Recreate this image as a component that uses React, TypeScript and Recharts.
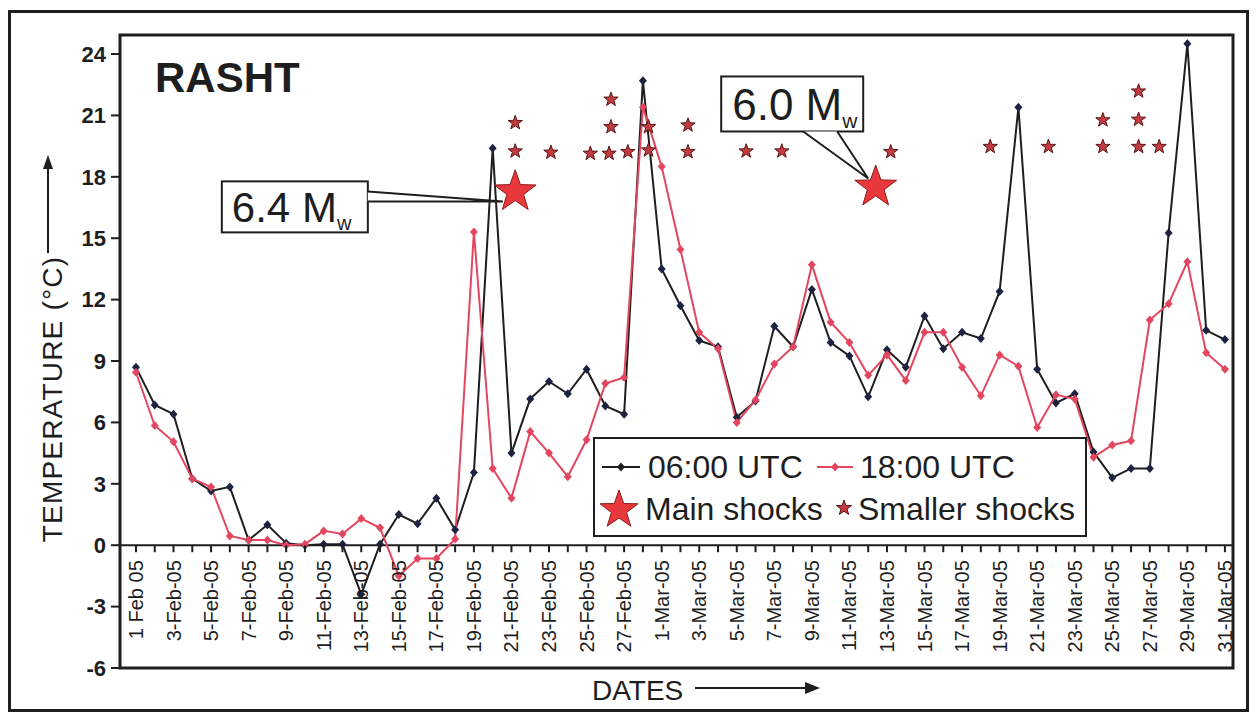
import { ComposedChart, Line, Scatter, XAxis, YAxis, ReferenceArea, ReferenceLine, ReferenceDot, Legend } from 'recharts'

const FONT = '"Liberation Sans", Arial, Helvetica, sans-serif'
const INK = '#1e1e1e'
const RED = '#e3475f'

// one label every second day, 1 Feb 2005 .. 31 Mar 2005
const dateLabels = [
  '1 Feb 05', '3-Feb-05', '5-Feb-05', '7-Feb-05', '9-Feb-05', '11-Feb-05', '13-Feb-05', '15-Feb-05',
  '17-Feb-05', '19-Feb-05', '21-Feb-05', '23-Feb-05', '25-Feb-05', '27-Feb-05', '1-Mar-05', '3-Mar-05',
  '5-Mar-05', '7-Mar-05', '9-Mar-05', '11-Mar-05', '13-Mar-05', '15-Mar-05', '17-Mar-05', '19-Mar-05',
  '21-Mar-05', '23-Mar-05', '25-Mar-05', '27-Mar-05', '29-Mar-05', '31-Mar-05',
]

// daily temperature (°C), index 0 = 1 Feb
const temp06 = [
  8.7, 6.85, 6.4, 3.25, 2.65, 2.85, 0.25, 1.0, 0.1, 0, 0.05, 0.05, -2.4, 0.05, 1.5, 1.05, 2.3, 0.75, 3.55, 19.4,
  4.5, 7.15, 8.0, 7.4, 8.6, 6.8, 6.4, 22.7,
  13.5, 11.7, 10.0, 9.7, 6.25, 7.05, 10.7, 9.7, 12.5, 9.9, 9.25, 7.25, 9.55, 8.7, 11.2, 9.6, 10.4, 10.1,
  12.4, 21.4, 8.6, 6.95, 7.4, 4.55, 3.3, 3.75, 3.75, 15.25, 24.5, 10.5, 10.05,
]
const temp18 = [
  8.45, 5.85, 5.05, 3.25, 2.85, 0.45, 0.25, 0.25, 0, 0.05, 0.7, 0.55, 1.3, 0.85, -1.5, -0.65, -0.65, 0.3, 15.3, 3.75,
  2.3, 5.55, 4.5, 3.35, 5.15, 7.9, 8.2, 21.4,
  18.5, 14.45, 10.4, 9.6, 6.0, 7.1, 8.85, 9.7, 13.7, 10.9, 9.9, 8.3, 9.3, 8.05, 10.4, 10.4, 8.7, 7.3,
  9.3, 8.75, 5.75, 7.35, 7.15, 4.3, 4.9, 5.1, 11.0, 11.8, 13.85, 9.4, 8.6,
]

// earthquakes: position in days from 1 Feb, plotted height in °C units
const mainShockDays = [20.2, 39.4]
const mainShockLevels = [17.27, 17.5]
const smallShockDays = [
  20.2, 20.2, 22.1, 24.2, 25.2, 25.3, 25.3, 26.2, 27.3, 27.3, 29.4, 29.4, 32.5, 34.4, 40.2,
  45.5, 48.6, 51.5, 51.5, 53.4, 53.4, 53.4, 54.5,
]
const smallShockLevels = [
  20.64, 19.25, 19.19, 19.14, 19.14, 20.44, 21.78, 19.22, 20.44, 19.3, 20.52, 19.22, 19.25, 19.25, 19.22,
  19.47, 19.47, 19.47, 20.77, 19.47, 20.8, 22.18, 19.47,
]

const yTicks = [-6, -3, 0, 3, 6, 9, 12, 15, 18, 21, 24]

const Y_MIN = -6
const Y_MAX = 24.93
const X_MIN = -0.85
const X_MAX = 58.43
const PLOT_H = 633
const ZERO_FROM_BOTTOM = (PLOT_H * (0 - Y_MIN)) / (Y_MAX - Y_MIN)

const days = temp06.map((_, i) => i)
const series06 = temp06.map((t, i) => ({ day: i, t }))
const series18 = temp18.map((t, i) => ({ day: i, t }))
const mainShocks = mainShockDays.map((day, i) => ({ day, t: mainShockLevels[i] }))
const smallShocks = smallShockDays.map((day, i) => ({ day, t: smallShockLevels[i] }))

function starPath(cx: number, cy: number, r: number) {
  let d = ''
  for (let k = 0; k < 10; k++) {
    const rad = k % 2 === 0 ? r : r * 0.4
    const a = -Math.PI / 2 + (k * Math.PI) / 5
    d += (k ? 'L' : 'M') + (cx + rad * Math.cos(a)).toFixed(1) + ' ' + (cy + rad * Math.sin(a)).toFixed(1)
  }
  return d + 'Z'
}

const diamond = (cx: number, cy: number) => `M${cx} ${cy - 4.5}L${cx + 4} ${cy}L${cx} ${cy + 4.5}L${cx - 4} ${cy}Z`

const DateTick = ({ x, y, payload }: any) => {
  const i = payload.value as number
  const zeroY = y - ZERO_FROM_BOTTOM
  return (
    <g>
      <line x1={x} x2={x} y1={zeroY} y2={zeroY + 7} stroke={INK} strokeWidth={2} />
      {i % 2 === 0 && (
        <text transform={`translate(${x},${zeroY + 15}) rotate(-90)`} textAnchor="end" dy="0.35em"
          fontFamily={FONT} fontSize={20} fill={INK}>
          {dateLabels[i / 2]}
        </text>
      )}
    </g>
  )
}

const YLabel = ({ viewBox }: any) => {
  const x = viewBox.x, y = viewBox.y
  return (
    <g>
      <text transform={`translate(${x + 62},${y + 364}) rotate(-90)`} textAnchor="middle"
        fontFamily={FONT} fontSize={28} letterSpacing={1.2} fill={INK}>TEMPERATURE (°C)</text>
      <line x1={x + 48} x2={x + 48} y1={y + 218} y2={y + 130} stroke={INK} strokeWidth={2} />
      <path d={`M${x + 48} ${y + 120}L${x + 43} ${y + 134}L${x + 53} ${y + 134}Z`} fill={INK} />
    </g>
  )
}

const XLabel = ({ viewBox }: any) => {
  const x = viewBox.x, y = viewBox.y
  return (
    <g>
      <text x={x + 472} y={y + 32} fontFamily={FONT} fontSize={28} fill={INK}>DATES</text>
      <line x1={x + 575} x2={x + 688} y1={y + 20} y2={y + 20} stroke={INK} strokeWidth={2} />
      <path d={`M${x + 700} ${y + 20}L${x + 685} ${y + 14}L${x + 685} ${y + 26}Z`} fill={INK} />
    </g>
  )
}

const Title = ({ viewBox }: any) => (
  <text x={viewBox.x + 35} y={viewBox.y + 57} fontFamily={FONT} fontSize={42} fontWeight={700} fill={INK}>RASHT</text>
)

// callout for the Feb event: box to the left, wedge pointing right to the star
const Callout64 = ({ cx, cy }: any) => (
  <g>
    <rect x={cx - 281} y={cy - 20} width={146} height={51} fill="#fff" stroke={INK} strokeWidth={2} />
    <path d={`M${cx - 135} ${cy - 10}L${cx} ${cy}L${cx - 135} ${cy}`} fill="#fff" stroke={INK} strokeWidth={2} />
    <text x={cx - 271} y={cy + 21} fontFamily={FONT} fontSize={42} fill={INK}>
      6.4 M<tspan fontSize={20} dy={8}>w</tspan>
    </text>
  </g>
)

// callout for the Mar event: box above, wedge pointing down to the star
const Callout60 = ({ cx, cy }: any) => (
  <g>
    <rect x={cx - 147} y={cy - 102} width={142} height={55} fill="#fff" stroke={INK} strokeWidth={2} />
    <path d={`M${cx - 65} ${cy - 47}L${cx} ${cy}L${cx - 31} ${cy - 47}`} fill="#fff" stroke={INK} strokeWidth={2} />
    <text x={cx - 136} y={cy - 58} fontFamily={FONT} fontSize={44} fill={INK}>
      6.0 M<tspan fontSize={21} dy={8}>w</tspan>
    </text>
  </g>
)

const LegendBox = () => (
  <div style={{ width: 494, height: 100, boxSizing: 'border-box', border: `2px solid ${INK}`, background: '#fff' }}>
    <svg width={490} height={96} style={{ display: 'block' }}>
      <g fontFamily={FONT} fontSize={32} fill={INK}>
        <line x1={7} x2={45} y1={28} y2={28} stroke={INK} strokeWidth={2} />
        <path d={diamond(26, 28)} fill={INK} />
        <text x={53} y={39}>06:00 UTC</text>
        <line x1={222} x2={258} y1={28} y2={28} stroke={RED} strokeWidth={2} />
        <path d={diamond(240, 28)} fill={RED} />
        <text x={265} y={39}>18:00 UTC</text>
        <path d={starPath(24, 71, 20)} fill="#e8383c" stroke="#8a1c1c" strokeWidth={1} />
        <text x={50} y={81}>Main shocks</text>
        <path d={starPath(249, 69, 8)} fill="#c23b40" stroke="#5a1414" strokeWidth={1} />
        <text x={263} y={81}>Smaller shocks</text>
      </g>
    </svg>
  </div>
)

export default function App() {
  return (
    <div style={{ position: 'absolute', left: 0, top: 0, width: 1257, height: 717, background: '#fff' }}>
      <div style={{ position: 'absolute', left: 8, top: 10, width: 1241, height: 702, boxSizing: 'border-box', border: `3px solid ${INK}` }} />
      <ComposedChart width={1257} height={717} margin={{ top: 35, right: 24, bottom: 48, left: 0 }}>
        <XAxis type="number" dataKey="day" domain={[X_MIN, X_MAX]} ticks={days} interval={0} height={1}
          allowDataOverflow axisLine={false} tickLine={false} tickSize={0} tickMargin={0}
          tick={<DateTick />} label={<XLabel />} />
        <YAxis type="number" domain={[Y_MIN, Y_MAX]} ticks={yTicks} interval={0} width={120} allowDataOverflow
          axisLine={false} tickSize={9} tickMargin={5} tickLine={{ stroke: INK, strokeWidth: 2 }}
          tick={{ fill: INK, fontSize: 22, fontWeight: 700, fontFamily: FONT }} label={<YLabel />} />
        <ReferenceArea x1={X_MIN} x2={X_MAX} y1={Y_MIN} y2={Y_MAX} fill="none" stroke={INK} strokeWidth={3}
          ifOverflow="visible" label={<Title />} />
        <ReferenceLine y={0} stroke={INK} strokeWidth={2} />
        <Line data={series06} dataKey="t" type="linear" stroke={INK} strokeWidth={2} isAnimationActive={false}
          dot={(p: any) => <path key={`a${p.index}`} d={diamond(p.cx, p.cy)} fill="#1c2240" />} />
        <Line data={series18} dataKey="t" type="linear" stroke={RED} strokeWidth={2} isAnimationActive={false}
          dot={(p: any) => <path key={`b${p.index}`} d={diamond(p.cx, p.cy)} fill={RED} />} />
        <Scatter data={smallShocks} dataKey="t" isAnimationActive={false}
          shape={(p: any) => <path d={starPath(p.cx, p.cy, 7.5)} fill="#c23b40" stroke="#5a1414" strokeWidth={1} />} />
        <Scatter data={mainShocks} dataKey="t" isAnimationActive={false}
          shape={(p: any) => <path d={starPath(p.cx, p.cy, 22)} fill="#e8383c" stroke="#8a1c1c" strokeWidth={1} />} />
        <ReferenceDot x={19.54} y={16.8} ifOverflow="visible" shape={(p: any) => <Callout64 {...p} />} />
        <ReferenceDot x={39.0} y={17.92} ifOverflow="visible" shape={(p: any) => <Callout60 {...p} />} />
        <Legend layout="vertical" align="center" verticalAlign="middle" content={<LegendBox />}
          wrapperStyle={{ left: 593, top: 437, width: 494, height: 100 }} />
      </ComposedChart>
    </div>
  )
}
